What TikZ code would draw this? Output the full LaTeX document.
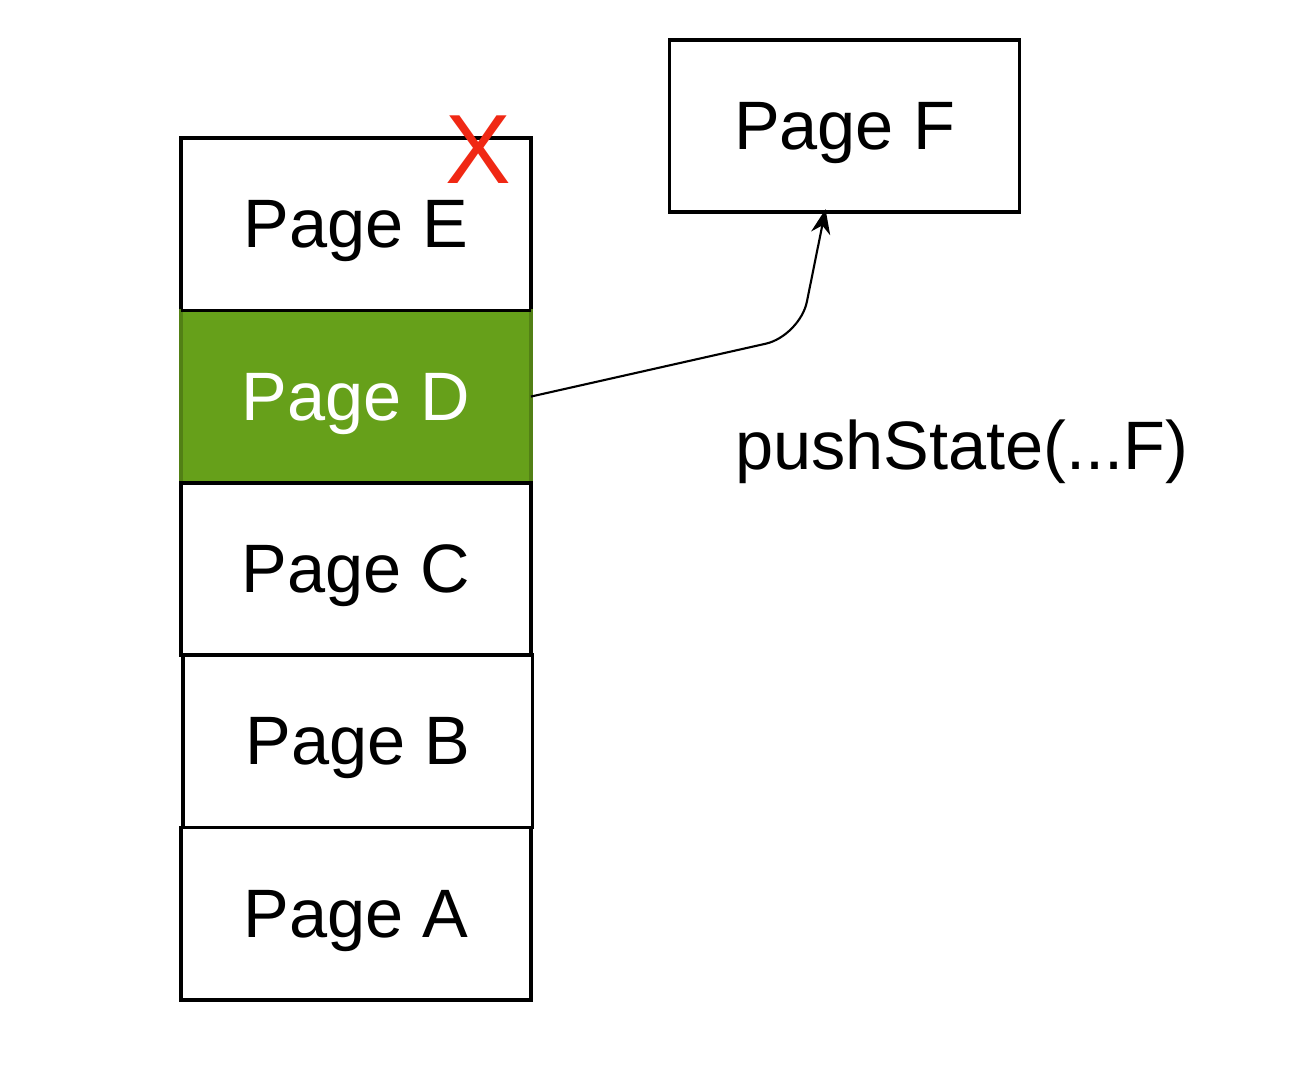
\documentclass[tikz,border=0pt]{standalone}
\usepackage{fontspec}
\setmainfont{Liberation Sans}
\usetikzlibrary{arrows.meta,calc,positioning}
\definecolor{pagegreen}{RGB}{102,160,26}
\definecolor{crossred}{RGB}{240,40,20}

\begin{document}
\begin{tikzpicture}[x=.02cm,y=-.02cm,
    page/.style={draw,line width=2pt,minimum width=7cm,minimum height=3.448cm,inner sep=0pt,outer sep=0pt,
      text depth=0pt,font=\fontsize{39}{47}\selectfont},
    active/.style={page,fill=pagegreen,draw=pagegreen!80!black,text=white}]
    \useasboundingbox (0,0) rectangle (1296,1070);
    \node[page] (E) at (356,224.2) {Page E};
    \node[active,below=0pt of E] (D) {Page D};
    \node[page,below=0pt of D] (C) {Page C};
    \node[page,below=0pt of C,xshift=1pt] (B) {Page B};
    \node[page,below=0pt of B,xshift=-1pt] (A) {Page A};
    \draw[line width=2pt] (D.north west) -- (D.north east) (D.south west) -- (D.south east);
    \node[page] (F) at (844.5,126) {Page F};
    \node[text=crossred,font=\fontsize{56}{60}\selectfont] (X) at (478,150) {X};
    \node[font=\fontsize{39}{47}\selectfont] (push) at (962,452) {pushState(...F)};
    \coordinate (Fin) at ($(F.south west)+(156,-3)$);
    \draw[-{Stealth[length=14pt,width=11pt]},line width=1.2pt,rounded corners=20pt] (D.east) -- (800,336) -- (Fin);
\end{tikzpicture}
\end{document}
